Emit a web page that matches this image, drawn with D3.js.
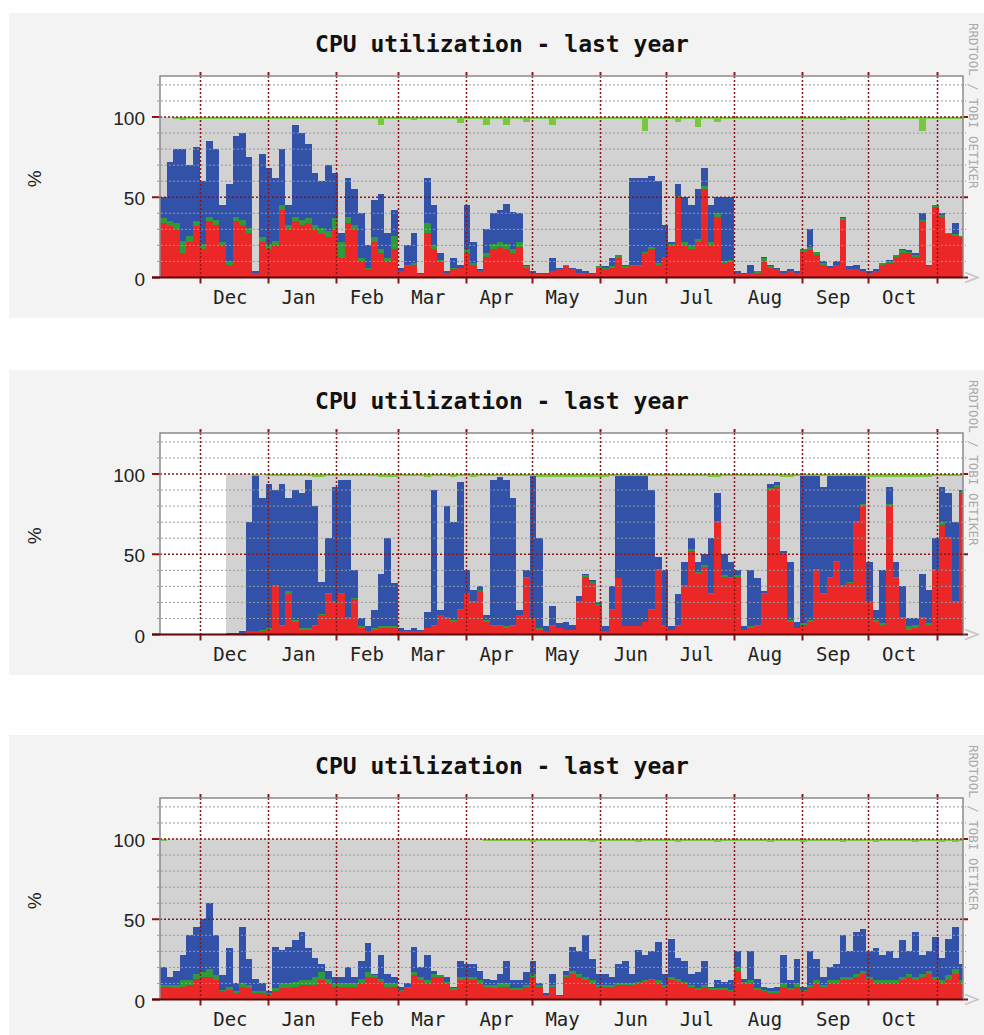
<!DOCTYPE html>
<html lang="en">
<head>
  <meta charset="UTF-8">
  <title>CPU utilization - last year</title>
  <script src="https://d3js.org/d3.v7.min.js"></script>
  <style>
    body {
      margin: 0;
      background: #fff;
    }

    svg {
      display: block;
    }

    .title {
      font-family: "DejaVu Sans Mono", monospace;
      font-weight: bold;
      font-size: 23px;
      fill: #111;
    }

    .month {
      font-family: "DejaVu Sans Mono", monospace;
      font-size: 19px;
      fill: #222;
    }

    .ylab {
      font-family: "Liberation Sans", Arial, sans-serif;
      font-size: 19px;
      fill: #222;
    }

    .stamp {
      font-family: "DejaVu Sans Mono", monospace;
      font-size: 12.5px;
      fill: #aaa;
    }
  </style>
</head>
<body>
  <svg id="chart"></svg>
  <script>
    // one value per 3-day step, starting 13 Nov 2006
    const startDate = "2006-11-13";
    const endDate = "2007-11-13";
    const stepDays = 3;

    const monthLabels = ["Dec", "Jan", "Feb", "Mar", "Apr", "May", "Jun", "Jul", "Aug", "Sep", "Oct"];
    const yLabels = [0, 50, 100];
    const titleText = "CPU utilization - last year";

    // panel 1
    const system1 = [34,32,30,15,22,32,18,35,33,20, 8,35,33,28,3,22,18,20,42,30,
      35,33,34,30,27,25,30,12,34,30, 10,5,22,15,10,18,4,7,8,2,
      28,18,10,3,5,6,15,8,4,13, 18,19,18,15,19,6,3,2,2,4,
      5,7,5,3,3,2,6,5,6,12, 6,7,7,15,18,8,12,20,50,20,
      18,22,55,20,38,9,10,3,2,3, 3,10,6,5,3,4,3,16,17,14,
      8,6,8,36,5,5,4,3,4,8, 9,13,15,15,13,35,7,44,38,27, 26,25];
    const nice1 = [3,3,4,8,4,3,3,3,3,2, 2,3,3,3,0,3,3,3,3,3,
      3,3,3,3,4,4,7,10,4,3, 2,1,3,3,2,8,0,1,1,0,
      6,2,1,0,1,0,3,1,0,2, 3,3,3,3,3,1,0,0,0,0,
      0,1,0,0,0,0,1,1,1,2, 1,1,1,1,1,1,1,1,1,2,
      2,2,2,2,2,1,1,0,0,0, 1,2,1,0,0,0,0,2,2,2,
      1,0,0,1,0,0,0,0,0,1, 1,1,2,1,1,1,0,1,1,1, 1,1];
    const user1 = [13,37,46,57,44,46,39,47,44,23, 48,50,54,44,1,52,47,39,35,12,
      57,54,46,32,29,41,28,6,24,22, 28,14,23,34,16,16,2,12,19,1,
      28,25,4,1,6,2,27,13,1,15, 19,20,25,23,18,1,1,1,1,8,
      1,0,1,2,1,1,0,1,5,0, 1,54,54,46,44,51,20,1,7,28,
      25,31,11,23,10,40,39,1,1,5, 0,1,1,1,1,1,1,0,11,0,
      1,1,2,1,2,3,1,1,1,0, 1,0,1,1,1,4,1,0,1,0, 7,0];
    const iowait1 = [0,0,1,2,1,1,1,1,1,1, 1,1,1,1,1,1,1,1,1,1,
      1,1,1,1,1,1,1,1,1,1, 1,1,1,5,1,1,1,1,2,1,
      1,1,1,1,1,4,1,1,1,5, 1,1,5,1,1,3,1,1,1,5,
      1,1,1,1,1,1,1,1,1,1, 1,1,1,9,1,1,1,1,3,1,
      1,6,1,1,3,1,1,1,1,1, 1,1,1,1,1,1,1,1,1,1,
      1,1,1,2,1,1,1,1,1,1, 1,1,1,1,1,9,1,1,1,1, 1,1];

    // panel 2 (no data before mid December)
    const system2 = [null,null,null,null,null,null,null,null,null,null,
      1,1,1,2,2,2,3,30,5,25, 8,3,3,5,12,25,20,25,10,22,
      4,2,3,4,4,4,2,2,2,2, 4,5,12,10,8,15,25,20,27,8,
      5,5,4,5,12,35,10,3,2,5, 4,3,3,20,36,32,18,2,15,35,
      5,5,5,8,15,40,5,3,5,30, 52,38,42,25,70,36,35,36,3,4,
      5,25,90,92,50,8,4,6,8,40, 25,35,45,30,32,70,80,20,8,6,
      80,35,10,3,4,10,6,40,68,60, 20,88];
    const nice2 = [null,null,null,null,null,null,null,null,null,null,
      0,0,0,0,0,1,1,1,1,2, 1,1,1,1,1,1,1,1,1,1,
      1,0,1,1,1,1,0,0,0,0, 0,1,0,1,1,1,1,1,1,1,
      1,1,1,1,0,1,0,1,0,1, 0,0,0,1,1,1,1,0,1,0,
      0,0,0,0,1,1,1,0,1,1, 1,1,1,1,1,1,1,1,0,1,
      1,1,1,1,1,1,0,1,1,1, 1,1,1,1,1,1,1,1,1,1,
      1,1,1,2,2,1,1,1,2,1, 1,1];
    const user2 = [null,null,null,null,null,null,null,null,null,null,
      0,0,1,68,97,82,90,59,88,58, 81,84,92,74,20,34,71,70,85,17,
      5,3,11,33,55,27,2,1,2,1, 10,84,3,69,61,79,14,7,2,3,
      90,92,91,79,3,4,89,56,3,12, 3,5,3,3,1,1,1,3,14,64,
      94,94,94,91,74,7,34,2,19,14, 7,6,7,34,17,13,9,3,2,35,
      29,1,3,2,1,36,4,92,90,58, 66,63,53,68,66,28,18,24,6,33,
      11,9,19,5,4,27,21,19,22,27, 49,1];
    const iowait2 = [null,null,null,null,null,null,null,null,null,null,
      0,0,0,0,1,0,1,1,1,1, 1,1,1,2,2,1,1,1,1,1,
      1,1,1,2,2,2,1,1,1,1, 2,1,1,1,2,1,1,2,1,1,
      1,1,1,1,1,1,1,2,2,2, 2,2,2,2,2,2,2,2,1,1,
      1,1,1,1,1,1,1,1,1,1, 1,1,1,2,2,1,1,1,1,1,
      1,1,1,1,2,2,1,1,1,1, 1,1,1,1,1,1,1,2,2,2,
      2,2,2,2,2,2,2,1,1,1, 1,1];

    // panel 3
    const system3 = [8,8,7,8,9,13,14,14,12,5, 6,4,8,7,4,4,3,5,7,7,
      8,9,9,9,12,10,8,8,8,8, 10,14,14,11,8,8,5,7,15,12,
      10,14,14,10,6,12,12,12,10,8, 7,8,8,6,6,8,14,8,3,8,
      2,14,16,14,12,10,8,8,8,9, 9,9,10,11,12,10,8,12,11,10,
      8,6,8,6,6,6,5,18,10,10, 6,5,4,4,8,6,8,5,8,10,
      8,10,10,12,12,14,16,12,10,10, 10,10,12,14,12,14,16,12,10,12, 16,10];
    const nice3 = [1,1,2,4,3,3,3,5,3,1, 2,1,2,2,1,1,1,2,3,3,
      3,3,3,5,5,3,2,2,2,2, 3,3,1,2,2,2,1,1,2,2,
      2,2,1,1,1,2,2,2,2,1, 2,2,2,1,1,1,2,1,0,1,
      0,1,2,2,2,2,1,1,1,1, 1,1,1,1,1,2,1,2,2,1,
      1,1,1,1,1,1,1,2,1,2, 1,1,1,1,2,1,2,1,1,2,
      1,2,2,2,2,2,2,2,2,2, 2,2,2,2,2,2,2,2,2,3, 3,2];
    const user3 = [11,5,9,16,28,29,33,41,25,9, 24,5,35,16,8,5,1,26,21,23,
      26,30,20,12,5,5,4,4,10,4, 11,18,1,15,6,4,2,2,16,6,
      16,2,0,3,1,10,8,8,6,4, 3,6,14,5,5,8,8,1,1,7,
      1,3,15,14,26,13,7,7,5,12, 14,6,20,16,17,24,7,24,13,13,
      7,10,15,1,5,4,6,10,2,18, 6,2,2,3,18,5,15,2,21,13,
      5,8,10,26,16,26,26,16,20,16, 18,14,23,14,28,12,12,25,14,23, 26,10];
    const iowait3 = [1,0,0,0,0,0,0,0,0,0, 0,0,0,0,0,0,0,0,0,0,
      0,0,0,0,0,0,0,0,0,0, 0,0,0,0,0,0,0,0,0,0,
      0,0,0,0,0,0,0,0,0,1, 1,1,1,1,1,1,2,1,1,1,
      1,1,1,1,1,2,1,1,1,1, 1,1,2,1,1,1,1,1,2,1,
      1,1,1,1,2,1,1,1,1,1, 1,1,2,1,1,1,1,2,1,1,
      1,1,1,2,1,1,1,1,2,1, 1,1,1,1,2,1,1,1,2,1, 2,1];

    const colors = {
      system: "#ec2727",
      nice: "#2f9a3c",
      user: "#3251a8",
      idle: "#d2d2d2",
      iowait: "#78c83c"
    };
    const gridRed = "#8e1414";

    const width = 984;
    const height = 1035;
    const day = 864e5;
    const start = new Date(startDate + "T00:00:00Z");
    const end = new Date(endDate + "T00:00:00Z");

    const svg = d3.select("#chart").attr("width", width).attr("height", height);

    const x = d3.scaleUtc().domain([start, end]).range([160, 963]);

    const panels = [
      { top: 13, system: system1, nice: nice1, user: user1, iowait: iowait1 },
      { top: 370, system: system2, nice: nice2, user: user2, iowait: iowait2 },
      { top: 735, system: system3, nice: nice3, user: user3, iowait: iowait3 }
    ];

    panels.forEach(drawPanel);

    function drawPanel(p) {
      const g = svg.append("g").attr("transform", `translate(0,${p.top})`);
      const y = d3.scaleLinear().domain([0, 100]).range([264.5, 104]);
      const zero = y(0);
      const plotTop = y(125.5);
      const [x0, x1] = x.range();

      // panel background and canvas
      g.append("rect")
        .attr("x", 9).attr("y", 0)
        .attr("width", width - 9).attr("height", 305)
        .attr("fill", "#f3f3f3");
      g.append("rect")
        .attr("x", x0).attr("y", plotTop)
        .attr("width", x1 - x0).attr("height", zero - plotTop)
        .attr("fill", "#fff");

      // rows for the stack, idle fills up to 100 %
      const rows = p.system.map((v, i) => {
        const on = v != null;
        const r = {
          date: new Date(+start + i * stepDays * day),
          on: on,
          system: on ? v : 0,
          nice: on ? p.nice[i] : 0,
          user: on ? p.user[i] : 0,
          iowait: on ? p.iowait[i] : 0
        };
        r.idle = on ? 100 - r.system - r.nice - r.user - r.iowait : 0;
        return r;
      });
      // close the last step at the right edge
      rows.push(Object.assign({}, rows[rows.length - 1], { date: end }));

      const series = d3.stack()
        .keys(["system", "nice", "user", "idle", "iowait"])(rows);

      const area = d3.area()
        .defined(d => d.data.on)
        .curve(d3.curveStepAfter)
        .x(d => x(d.data.date))
        .y0(d => y(d[0]))
        .y1(d => y(d[1]));

      g.append("g")
        .selectAll("path")
        .data(series)
        .join("path")
        .attr("fill", d => colors[d.key])
        .attr("shape-rendering", "crispEdges")
        .attr("d", area);

      // minor horizontal grid
      const minor = d3.range(10, 130, 10).filter(v => v % 50 !== 0);
      g.append("g")
        .selectAll("line")
        .data(minor)
        .join("line")
        .attr("x1", x0 - 3).attr("x2", x1 + 3)
        .attr("y1", d => y(d)).attr("y2", d => y(d))
        .attr("stroke", "#999")
        .attr("stroke-dasharray", "2,2");

      // month lines
      const months = d3.utcMonth.range(start, end);
      const vg = g.append("g");
      vg.selectAll("line.grid")
        .data(months)
        .join("line")
        .attr("class", "grid")
        .attr("x1", d => Math.round(x(d)) + 0.5).attr("x2", d => Math.round(x(d)) + 0.5)
        .attr("y1", plotTop).attr("y2", zero)
        .attr("stroke", gridRed)
        .attr("stroke-width", 1.5)
        .attr("stroke-dasharray", "2,2");
      vg.selectAll("line.tick")
        .data(months.flatMap(m => [[m, plotTop - 4, plotTop], [m, zero, zero + 6]]))
        .join("line")
        .attr("class", "tick")
        .attr("x1", d => Math.round(x(d[0])) + 0.5).attr("x2", d => Math.round(x(d[0])) + 0.5)
        .attr("y1", d => d[1]).attr("y2", d => d[2])
        .attr("stroke", gridRed)
        .attr("stroke-width", 2);

      // major horizontal grid
      g.append("g")
        .selectAll("line")
        .data(yLabels.filter(v => v > 0))
        .join("line")
        .attr("x1", x0).attr("x2", x1)
        .attr("y1", d => y(d)).attr("y2", d => y(d))
        .attr("stroke", gridRed)
        .attr("stroke-width", 1.5)
        .attr("stroke-dasharray", "2,2");
      g.append("g")
        .selectAll("line")
        .data(yLabels.flatMap(v => [[v, x0 - 8, x0], [v, x1, x1 + 5]]))
        .join("line")
        .attr("x1", d => d[1]).attr("x2", d => d[2])
        .attr("y1", d => y(d[0])).attr("y2", d => y(d[0]))
        .attr("stroke", gridRed)
        .attr("stroke-width", 2);

      // frame
      g.append("path")
        .attr("d", `M${x0},${zero}V${plotTop}H${x1}V${zero}`)
        .attr("fill", "none")
        .attr("stroke", "#8a8a8a")
        .attr("stroke-width", 1.5);

      // zero axis with arrow
      g.append("line")
        .attr("x1", x0 - 8).attr("x2", x1)
        .attr("y1", zero).attr("y2", zero)
        .attr("stroke", "#5a0808")
        .attr("stroke-width", 2);
      g.append("path")
        .attr("d", `M${x1 + 2},${zero - 5}L${x1 + 15},${zero}L${x1 + 2},${zero + 5}`)
        .attr("fill", "none")
        .attr("stroke", "#c4c4c4")
        .attr("stroke-width", 1.5);

      // y labels
      g.append("g")
        .selectAll("text")
        .data(yLabels)
        .join("text")
        .attr("class", "ylab")
        .attr("x", 145)
        .attr("y", d => y(d) + 3)
        .attr("text-anchor", "end")
        .attr("dominant-baseline", "middle")
        .text(d => d);

      g.append("text")
        .attr("class", "ylab")
        .attr("transform", `translate(36,${(plotTop + zero) / 2 + 2}) rotate(-90)`)
        .attr("text-anchor", "middle")
        .attr("dominant-baseline", "middle")
        .text("%");

      // month labels, centred in each month
      g.append("g")
        .selectAll("text")
        .data(months.slice(0, monthLabels.length))
        .join("text")
        .attr("class", "month")
        .attr("x", d => x(new Date(+d + 14 * day)))
        .attr("y", zero + 26)
        .attr("text-anchor", "middle")
        .text((d, i) => monthLabels[i]);

      // title
      g.append("text")
        .attr("class", "title")
        .attr("x", 502)
        .attr("y", 39)
        .attr("text-anchor", "middle")
        .text(titleText);

      // rrdtool stamp
      g.append("text")
        .attr("class", "stamp")
        .attr("transform", "translate(969,10) rotate(90)")
        .text("RRDTOOL / TOBI OETIKER");
    }
  </script>
</body>
</html>
